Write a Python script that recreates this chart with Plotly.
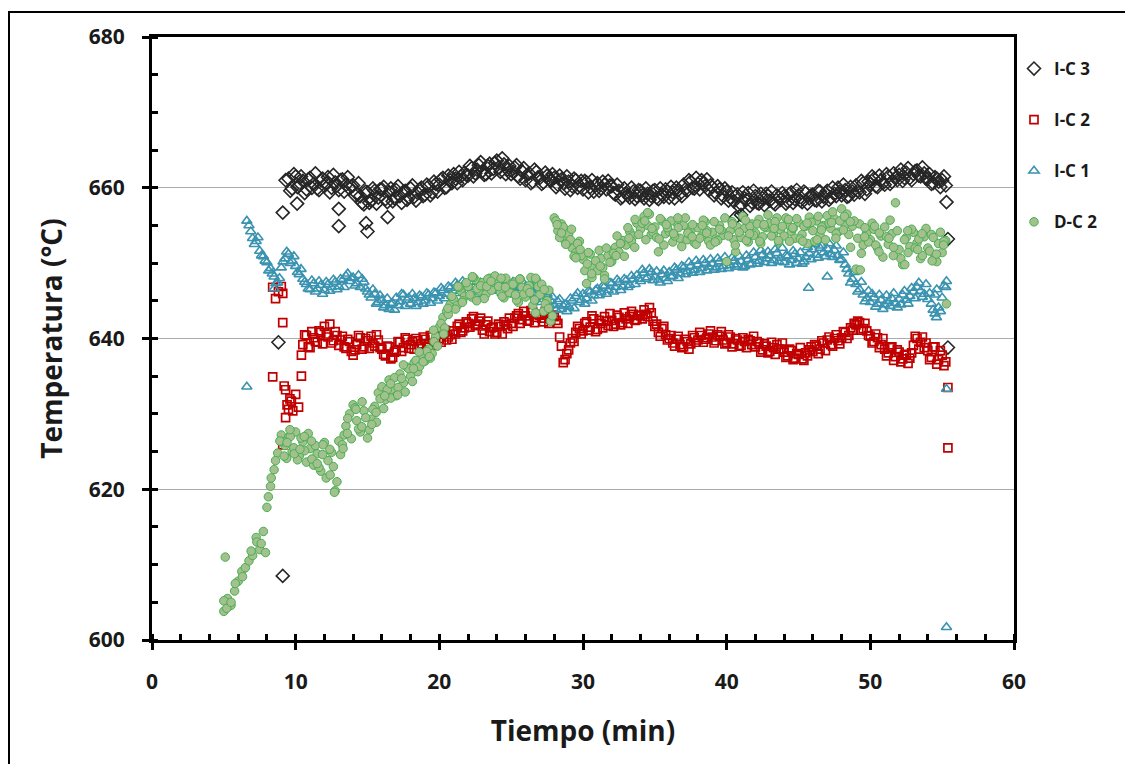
import plotly.graph_objects as go

# ---------------- data ----------------
STEP = 0.25

# I-C 3 (black diamonds): two interleaved sample passes + scattered points
ic3_t0 = 9.5
ic3_v = [661.2, 659.9, 661.5, 660.3, 660.9, 659.8, 661.3, 660.5, 659.9, 661.0, 660.2, 661.4, 660.0, 660.7, 659.7, 661.1, 660.4, 659.9,
         660.3, 659.2, 658.9, 657.8,
         659.4, 658.3, 659.6, 658.7,
         659.8, 658.5, 659.4, 658.2, 659.7, 658.9, 659.5, 658.4, 659.9, 658.8, 659.3, 660.0,
         659.1, 660.2, 659.4, 660.5,
         660.4, 661.3, 660.1, 661.0, 661.8, 660.6, 661.5, 662.0,
         661.6, 662.6, 661.9, 663.0, 662.2, 661.8, 663.2, 662.5, 663.6, 662.1, 663.1, 662.4,
         661.8, 662.7, 661.5, 662.2, 661.0, 661.9, 660.8, 662.1, 661.3, 660.7, 661.6, 660.9,
         661.3, 660.4, 661.1, 659.9, 660.8, 660.2, 661.0, 660.3,
         659.8, 660.7, 660.1, 659.5, 660.6, 659.9, 660.4, 660.9,
         660.2, 659.1, 659.6, 658.8, 659.3, 658.7, 659.5, 658.9,
         659.6, 658.6, 659.2, 658.9, 659.7, 658.5, 659.1, 659.8, 658.7, 659.4, 660.0, 659.2,
         660.4, 659.6, 660.8, 659.9, 660.5, 661.0, 660.2, 659.7,
         660.1, 659.3, 659.8, 658.9, 659.5, 658.7,
         658.2, 659.1, 657.8, 658.6, 659.3, 658.1, 658.9, 657.9, 658.6, 659.2, 658.3, 658.0, 659.0, 658.4,
         658.9, 658.2, 659.4, 658.5, 659.0, 658.1, 659.3, 658.6, 659.1, 658.3, 659.5, 658.8,
         659.6, 658.7, 659.2, 660.0, 659.0, 659.7, 658.9, 659.5,
         660.3, 659.4, 660.6, 659.8,
         660.5, 661.2, 660.1, 661.0, 660.4, 661.5, 660.8, 661.3,
         661.7, 660.9, 662.0, 661.3, 661.8, 662.3, 661.5, 661.9,
         661.2, 660.5, 661.4, 660.8, 661.0, 660.3]
ic3_t0b = 9.625
ic3_vb = [659.6, 661.8, 660.1, 661.5, 659.3, 661.1, 660.0, 661.9, 659.7, 661.2, 660.6, 659.4, 661.7, 660.3, 661.0, 659.5, 661.4, 660.2,
          659.0, 660.6, 658.0, 659.5,
          658.0, 659.9, 657.9, 659.8,
          660.1, 658.1, 659.9, 658.6, 660.2, 658.0, 659.6, 658.7, 660.3, 658.3, 659.8, 658.9,
          660.4, 659.0, 660.8, 659.5,
          661.1, 660.0, 661.6, 660.6, 661.2, 662.1, 661.0, 661.7,
          662.9, 661.5, 662.4, 663.4, 661.7, 662.9, 661.9, 663.3, 662.7, 663.9, 661.8, 662.9,
          662.1, 663.0, 661.2, 662.6, 661.7, 660.6, 662.4, 661.4, 660.5, 662.0, 661.1, 661.8,
          660.1, 661.6, 660.6, 661.5, 659.7, 661.2, 660.0, 660.9,
          660.9, 659.4, 661.0, 660.3, 659.6, 660.8, 659.8, 660.3,
          659.3, 660.4, 658.6, 659.9, 659.0, 660.0, 658.5, 659.7,
          659.0, 659.9, 658.4, 659.6, 658.7, 659.9, 658.8, 659.5, 660.1, 658.6, 659.7, 658.9,
          659.8, 661.0, 660.0, 661.3, 659.8, 660.6, 661.1, 660.3,
          659.0, 660.2, 658.6, 659.9, 658.3, 659.4,
          658.9, 657.5, 659.4, 658.4, 657.6, 659.6, 658.0, 659.2, 657.7, 658.9, 659.5, 657.8, 658.7, 659.3,
          657.9, 659.2, 658.0, 659.7, 658.3, 659.5, 657.9, 659.0, 658.4, 659.6, 658.2, 659.3,
          658.4, 660.0, 658.9, 659.5, 660.4, 658.8, 660.1, 659.1,
          659.6, 660.9, 659.2, 660.8,
          661.5, 660.2, 661.6, 660.6, 661.8, 660.5, 661.9, 661.0,
          662.4, 661.3, 662.6, 661.0, 662.2, 661.6, 662.7, 661.2,
          661.8, 660.6, 661.2, 660.1, 661.5]
ic3_xt = [8.8, 9.1, 9.1, 9.3, 10.1, 13.0, 13.0, 14.9, 15.0, 16.4, 40.6, 41.0, 55.3, 55.4, 55.4]
ic3_xv = [639.5, 608.5, 656.7, 661.0, 657.9, 657.2, 654.9, 655.3, 654.2, 656.1, 656.0, 656.4, 658.1, 653.2, 638.8]

# I-C 2 (red squares)
ic2_t0 = 10.5
ic2_v = [639.2, 640.4, 638.8, 640.1, 639.5, 640.8,
         641.6, 640.2, 639.4, 640.9, 639.1, 640.3, 638.7, 639.6,
         637.8, 639.2, 640.1, 638.9, 639.7, 640.3, 639.0, 639.8,
         638.6, 637.7, 638.9, 637.5,
         638.4, 639.5, 638.8, 639.9, 639.2, 638.6, 639.7, 639.3,
         639.9, 639.3, 640.2, 639.6,
         640.0, 640.7, 639.8, 640.5, 641.0, 641.6, 640.8, 641.4,
         642.0, 642.6, 641.7, 642.3, 641.1, 641.8, 640.9, 641.5,
         640.8, 641.6, 642.2, 641.3, 642.0, 642.7, 643.3, 642.5,
         643.0, 642.4, 643.5, 642.8, 643.1, 642.2, 643.4, 642.6,
         642.9, 642.0,
         639.0, 637.2, 638.5, 640.0, 640.8, 641.3,
         641.0, 642.2, 641.5, 642.6, 641.2, 642.0, 642.9, 641.7,
         642.4, 641.9, 642.8, 642.1, 642.6, 642.9, 643.2, 642.5,
         643.0, 643.8, 642.9, 643.4,
         641.6, 640.8, 641.3, 640.5,
         640.0, 639.4, 639.9, 639.2, 638.9, 639.6, 639.3, 640.1,
         639.8, 640.4, 639.9, 640.6, 640.2, 639.7, 640.3, 639.8,
         639.5, 640.2, 639.3, 639.8, 639.1, 639.6, 639.9, 639.2,
         638.9, 639.4, 638.5, 639.0, 638.3, 638.8, 639.2, 638.6,
         638.2, 637.7, 638.4, 637.4, 637.9, 637.3, 638.1, 638.5,
         638.3, 639.0, 638.6, 639.4, 639.8, 639.2, 640.0, 639.7,
         640.1, 640.8, 640.4, 641.1,
         641.8, 642.1, 641.3, 641.0,
         640.3, 639.6, 640.1, 639.2,
         638.6, 638.1, 638.9, 637.6, 638.2, 637.3, 637.9, 637.4,
         639.1, 640.0, 639.5, 638.8,
         638.4, 637.5, 638.9, 637.2, 637.8, 636.9]
ic2_t0b = 10.625
ic2_vb = [640.5, 638.9, 640.9, 639.6, 641.0, 639.3,
          640.6, 641.9, 639.7, 640.4, 639.8, 638.9, 639.9, 638.3,
          638.5, 640.4, 638.6, 640.0, 638.7, 639.4, 640.5, 638.8,
          637.9, 639.0, 637.3, 638.2,
          639.6, 638.3, 640.1, 638.7, 639.6, 640.0, 638.9, 640.2,
          638.9, 640.4, 639.1, 640.6,
          639.5, 641.1, 640.2, 639.9, 640.6, 641.9, 641.0, 642.2,
          641.5, 642.9, 641.9, 642.7, 640.6, 642.3, 641.4, 640.6,
          641.9, 640.6, 641.8, 642.7, 641.6, 643.0, 642.0, 643.6,
          642.3, 643.7, 642.1, 643.2, 642.7, 643.6, 642.0, 643.1,
          642.4, 640.2,
          636.8, 638.0, 639.4, 639.6, 641.6, 640.6,
          642.0, 641.1, 643.0, 640.9, 642.4, 641.4, 642.3, 643.3,
          641.6, 643.1, 641.8, 643.4, 642.0, 643.6, 642.4, 643.1,
          642.6, 643.2, 644.1, 642.3,
          641.9, 640.3, 641.6, 639.8,
          640.4, 639.0, 640.3, 638.8, 639.9, 638.6, 640.4, 639.5,
          640.8, 639.5, 640.1, 641.0, 639.4, 640.5, 640.9, 639.3,
          640.5, 638.9, 640.0, 639.0, 640.1, 638.8, 639.7, 640.3,
          639.6, 638.2, 639.3, 638.1, 639.5, 637.9, 638.6, 639.4,
          637.5, 638.6, 637.2, 638.0, 638.8, 637.1, 637.7, 638.9,
          639.2, 638.0, 639.7, 638.4, 640.2, 639.0, 640.5, 639.3,
          640.9, 640.0, 641.4, 642.0,
          642.3, 641.1, 642.0, 640.4,
          639.4, 640.6, 638.8, 640.0,
          637.7, 638.8, 637.1, 638.5, 636.9, 637.8, 636.7, 638.1,
          640.3, 638.6, 640.2, 639.4,
          637.2, 638.9, 636.6, 638.4, 636.4]
ic2_xt = [8.4, 8.4, 8.6, 8.8, 9.0, 9.1, 9.1, 9.2, 9.3, 9.4, 9.5, 9.6, 9.7, 9.8, 10.0, 10.2, 9.3, 9.1, 10.4, 10.4, 55.4, 55.4]
ic2_xv = [634.9, 646.8, 645.3, 646.2, 646.9, 646.0, 642.1, 633.7, 633.2, 631.2, 630.6, 632.0, 631.7, 630.4, 632.6, 630.9, 629.5, 625.9, 635.0, 637.8, 633.5, 625.5]

# I-C 1 (blue triangles)
ic1_t0 = 6.75
ic1_v = [655.0, 653.3, 652.9, 651.6, 650.9, 650.1, 649.3, 648.2, 647.4,
         649.4, 650.6, 651.2, 650.3, 649.6, 648.5, 647.9, 647.2,
         646.5, 647.3, 646.6, 647.1, 646.4, 647.2, 646.8, 647.5,
         646.9, 647.7, 648.3, 647.6, 648.1, 647.3, 646.8, 647.5,
         646.2, 645.4, 645.9, 644.8, 645.1, 644.4, 643.9, 644.7,
         645.4, 644.9, 645.8, 645.1, 644.6, 645.3, 644.8, 645.5,
         645.0, 645.8, 645.3, 646.0, 645.6, 646.4, 645.9, 646.7,
         646.3, 647.1, 646.6, 647.3, 646.8, 646.2, 647.0, 646.5,
         647.2, 646.6, 647.4, 646.9, 646.3, 647.1, 646.7, 647.3,
         646.8, 646.2, 647.0, 646.4, 646.9, 646.1, 646.6, 646.0,
         645.7, 645.2, 645.9, 645.0, 644.4, 644.9, 643.9, 644.5,
         644.2, 645.0, 645.6, 644.8, 645.9, 645.3, 646.2, 645.7,
         646.6, 646.1, 646.9, 646.4, 647.3, 646.8, 647.5, 646.9,
         647.7, 647.1, 647.9, 648.4, 647.6, 648.7, 648.1, 648.8,
         648.2, 647.8, 648.5, 648.0, 648.8, 648.3, 649.1, 648.6,
         649.4, 648.9, 649.6, 649.1, 649.8, 649.3, 650.0, 649.5,
         649.9, 649.4, 650.2, 649.6, 650.1, 649.7, 650.3, 649.8,
         650.2, 649.6, 650.5, 649.9, 650.8, 650.3, 651.1, 650.6,
         651.0, 650.4, 651.3, 650.7, 650.1, 650.9, 650.4, 651.2,
         650.6, 649.9, 650.8, 651.3, 651.8, 651.1, 652.0, 651.4,
         651.9, 651.2, 651.7, 651.0, 650.5, 649.8,
         648.6, 647.9, 647.2, 646.5, 645.8, 645.3,
         644.8, 645.4, 644.6, 645.1, 644.5, 644.9, 645.3, 644.7,
         645.2, 645.8, 645.1, 645.6, 646.2, 646.8, 646.3, 645.9,
         645.2, 644.6, 645.8, 644.1, 645.4, 646.8]
ic1_t0b = 6.875
ic1_vb = [654.2, 652.5, 653.4, 651.0, 650.3, 649.0, 648.6, 647.3, 648.0,
          650.2, 651.5, 650.0, 650.9, 648.8, 649.2, 647.5, 646.6,
          647.7, 646.2, 647.6, 645.9, 647.5, 646.3, 647.8, 646.5,
          647.9, 646.8, 648.6, 648.0, 647.0, 648.4, 647.9, 646.6,
          645.8, 646.5, 644.6, 645.7, 644.1, 645.3, 644.6, 643.8,
          644.4, 645.9, 644.3, 645.4, 645.9, 644.3, 645.7, 644.6,
          646.0, 644.7, 646.1, 645.0, 646.7, 645.3, 646.9, 645.6,
          647.4, 646.0, 647.6, 646.1, 647.5, 646.8, 645.9, 647.4,
          646.2, 647.7, 646.4, 647.6, 647.0, 646.0, 647.6, 646.4,
          647.5, 645.9, 646.8, 647.3, 645.8, 647.1, 645.7, 646.8,
          644.8, 646.1, 644.5, 645.5, 643.8, 645.2, 644.3, 643.6,
          645.3, 644.0, 646.0, 645.1, 644.6, 646.3, 645.0, 646.4,
          645.7, 647.0, 645.9, 647.4, 646.2, 647.8, 646.4, 647.9,
          646.8, 648.3, 647.2, 647.9, 649.1, 647.9, 649.2, 647.7,
          648.9, 647.4, 649.0, 647.6, 648.2, 649.4, 648.0, 649.6,
          648.5, 650.1, 648.7, 650.3, 648.8, 650.4, 649.0, 650.5,
          649.1, 650.6, 649.2, 650.8, 649.3, 650.7, 649.5, 650.9,
          649.4, 651.0, 649.8, 651.4, 649.9, 651.7, 650.1, 651.5,
          650.0, 651.8, 650.2, 652.0, 651.0, 649.8, 651.6, 650.0,
          651.4, 650.2, 652.1, 650.5, 652.5, 650.7, 652.3, 650.9,
          652.6, 650.8, 652.3, 650.4, 651.4, 649.2,
          647.4, 648.8, 646.2, 647.5, 644.9, 646.3,
          645.9, 644.2, 645.8, 643.9, 645.7, 644.3, 646.0, 644.1,
          644.5, 646.3, 644.6, 646.7, 645.3, 647.4, 645.5, 647.2,
          646.0, 643.8, 646.5, 643.6, 647.0]
ic1_xt = [6.6, 6.6, 8.5, 45.7, 47.0, 54.5, 54.6, 55.3, 55.3, 55.3]
ic1_xv = [633.6, 655.6, 646.6, 646.7, 648.2, 643.3, 642.8, 601.7, 633.3, 647.6]

# D-C 2 (green circles)
dc2_t0 = 5.0
dc2_v = [603.8, 605.5, 604.6, 606.5, 607.8, 609.1, 609.6, 610.5, 611.2, 613.6, 612.0, 614.4,
         617.6, 620.4, 622.6, 624.8, 627.2, 625.8, 626.9, 625.0, 627.6, 624.4, 626.3, 623.6,
         625.4, 623.2, 624.7, 622.4, 626.2, 623.8, 624.9, 619.8, 626.4, 625.9, 628.4, 630.0,
         631.2, 629.1, 627.6, 630.4, 626.8, 629.3, 631.0, 632.8, 633.6, 631.9, 634.5, 633.0,
         632.4, 635.3, 634.1, 636.2, 635.0, 636.8, 635.6, 637.5, 637.0, 638.6, 638.0, 640.3,
         641.5, 642.8, 643.6, 644.5, 645.2, 644.4, 646.3, 645.6, 646.9, 645.5, 647.8, 646.3,
         647.4, 645.9, 648.0, 646.6, 647.7, 646.2, 645.4, 647.3, 646.0, 647.5, 644.8, 646.8,
         645.5, 647.0, 644.4, 647.8, 645.8, 643.6, 645.0, 642.3, 656.0, 654.3, 655.2, 653.0,
         653.8, 652.0, 651.4, 652.9, 650.5, 647.3, 651.2, 649.5, 649.0, 650.6, 648.4, 651.0,
         650.2, 652.1, 651.5, 653.0, 652.4, 654.2, 653.6, 655.3, 654.5, 656.2, 655.0, 653.8,
         654.8, 651.5, 655.6, 653.9, 654.2, 652.8, 655.4, 653.3, 655.0, 653.1, 654.3, 652.7,
         654.7, 653.6, 655.5, 652.9, 654.1, 653.2, 655.0, 653.7, 650.2, 654.3, 653.1, 654.8,
         653.4, 654.6, 652.8, 655.2, 654.0, 655.8, 653.5, 654.7, 655.3, 653.9, 656.0, 654.4,
         653.6, 655.1, 654.2, 653.3, 655.4, 653.8, 654.9, 656.1, 654.3, 655.6, 653.7, 655.0,
         656.3, 654.6, 655.9, 654.1, 657.2, 655.0, 653.8, 654.9, 649.2, 655.2, 652.4, 654.0,
         653.1, 654.5, 652.0, 653.6, 654.8, 652.5, 653.9, 658.0, 651.8, 649.8, 653.4, 652.2,
         654.1, 652.7, 650.6, 653.5, 652.0, 653.8, 650.9, 652.6, 651.4, 653.0]
dc2_t0b = 9.125
dc2_vb = [626.3, 624.1, 627.0, 625.5, 623.9, 626.8, 625.1, 627.4,
          624.0, 625.8, 622.9, 624.6, 621.5, 625.3, 623.0, 621.0,
          624.6, 627.2, 629.4, 626.7, 630.8, 628.0, 631.6, 629.5,
          627.9, 630.6, 628.9, 632.0, 630.7, 633.2, 632.1, 634.8,
          633.5, 634.7, 632.9, 636.0, 634.3, 637.1, 636.3, 636.9,
          638.3, 637.4, 639.6, 639.0, 642.0, 641.4, 643.2, 645.6,
          643.9, 646.8, 645.0, 647.4, 645.8, 648.1, 646.6, 647.0,
          645.3, 647.9, 646.4, 648.3, 646.9, 645.6, 648.0, 646.1,
          647.2, 645.1, 647.9, 645.9, 646.6, 648.1, 645.1, 646.9,
          647.2, 644.6, 646.4, 643.0,
          655.6, 653.4, 654.8, 652.6, 653.1, 650.9, 652.6, 651.0,
          649.0, 651.4, 648.1, 650.3, 651.7, 649.4, 652.0, 650.1,
          651.3, 653.6, 652.6, 650.9, 654.7, 652.9, 655.8, 653.8,
          655.3, 653.1, 656.5, 654.1, 653.4, 655.9, 652.4, 654.7,
          655.6, 653.6, 654.7, 652.2, 656.0, 653.9, 655.1, 652.5,
          653.3, 655.7, 654.3, 652.4, 655.5, 653.0, 654.4, 656.0,
          653.6, 655.5, 651.5, 654.1, 656.2, 653.0, 654.9, 653.7,
          655.2, 652.6, 654.8, 656.4, 653.6, 655.5, 652.8, 654.9,
          656.0, 652.9, 654.6, 655.9, 653.2, 654.9, 652.6, 655.4,
          652.9, 656.2, 654.8, 653.1, 655.3, 656.8, 653.9, 655.6,
          654.4, 656.5, 652.1, 655.6, 653.3, 651.3, 654.7, 652.8,
          655.3, 652.4, 654.0, 650.8, 653.5, 655.7, 652.1, 654.3,
          650.6, 653.1, 651.4, 654.5, 652.0, 653.2, 651.0, 654.6,
          651.6, 653.4, 650.2, 654.1, 652.9]
dc2_xt = [5.1, 5.0, 5.2, 5.5, 5.8, 6.3, 6.9, 7.3, 7.6, 7.9, 8.1, 8.3, 8.6, 8.9, 9.2, 9.4, 9.6, 9.9,
          10.3, 10.6, 11.1, 11.5, 11.9, 12.4, 12.7, 13.3, 13.6, 14.2, 14.6, 15.3, 15.6, 16.2, 16.6,
          17.1, 17.5, 18.2, 18.6, 19.3, 19.6, 20.3, 20.6, 21.3, 21.6, 22.3, 22.6, 23.3, 23.6, 24.3,
          24.6, 25.3, 25.6, 26.3, 26.7, 26.7, 27.3, 27.6, 28.2, 28.5, 28.8, 29.2, 29.5, 29.8, 30.3,
          30.6, 31.2, 31.5, 32.3, 32.6, 33.2, 33.6, 34.3, 34.5, 34.8, 35.3, 35.8, 36.3, 36.6, 37.3,
          37.6, 38.3, 38.6, 39.2, 39.5, 40.4, 40.6, 41.3, 41.6, 42.3, 42.6, 43.3, 43.6, 44.3, 44.6,
          45.3, 45.6, 46.3, 46.6, 47.3, 47.6, 48.2, 48.6, 49.3, 49.6, 50.3, 50.6, 51.3, 51.6, 52.4,
          52.6, 53.3, 53.6, 54.3, 54.6, 55.3, 55.1]
dc2_xv = [611.0, 605.2, 604.2, 605.0, 607.5, 608.4, 611.8, 613.0, 612.8, 611.6, 619.0, 621.5, 623.8,
          626.4, 624.4, 626.2, 627.9, 624.7, 625.3, 627.0, 626.4, 623.4, 625.9, 621.9, 619.6, 625.4,
          627.4, 630.6, 628.3, 628.6, 630.2, 632.4, 634.0, 632.5, 636.5, 636.0, 638.2, 637.6, 641.1,
          640.6, 644.0, 646.9, 644.8, 648.2, 645.0, 646.9, 647.6, 648.0, 646.8, 645.8, 647.9, 646.1,
          648.0, 643.4, 646.5, 644.0, 655.1, 654.0, 652.5, 654.5, 650.7, 651.8, 649.9, 648.6, 649.6,
          647.9, 651.0, 652.6, 653.3, 652.1, 655.6, 656.7, 654.6, 653.2, 655.1, 653.9, 656.0, 654.0,
          653.5, 655.0, 654.0, 652.8, 654.5, 655.2, 652.4, 655.7, 653.9, 652.9, 655.1, 654.6, 653.0,
          655.8, 654.7, 652.9, 655.3, 653.1, 654.4, 655.4, 653.3, 656.2, 655.5, 649.1, 653.5, 654.9,
          651.5, 653.3, 651.0, 649.8, 654.3, 651.8, 653.9, 650.3, 651.2, 644.6, 652.4]

x_ticks = [0, 10, 20, 30, 40, 50, 60]
y_ticks = [600, 620, 640, 660, 680]


def times(t0, vals):
    return [round(t0 + i * STEP, 3) for i in range(len(vals))]


def series(t0, vals, t0b, valsb, xt, xv):
    return times(t0, vals) + times(t0b, valsb) + xt, vals + valsb + xv


fig = go.Figure()

FONT = "Open Sans"
TXT = "#1a1a1a"

specs = [
    ("I-C 3", (ic3_t0, ic3_v, ic3_t0b, ic3_vb, ic3_xt, ic3_xv),
     dict(symbol="diamond-open", size=10, color="#262626", line=dict(width=1.6, color="#262626"))),
    ("I-C 2", (ic2_t0, ic2_v, ic2_t0b, ic2_vb, ic2_xt, ic2_xv),
     dict(symbol="square-open", size=8, color="#C00000", line=dict(width=1.7, color="#C00000"))),
    ("I-C 1", (ic1_t0, ic1_v, ic1_t0b, ic1_vb, ic1_xt, ic1_xv),
     dict(symbol="triangle-up-open", size=9, color="#3A93B0", line=dict(width=1.6, color="#3A93B0"))),
    ("D-C 2", (dc2_t0, dc2_v, dc2_t0b, dc2_vb, dc2_xt, dc2_xv),
     dict(symbol="circle", size=8.5, color="#A4C08E", line=dict(width=1, color="#46B050"))),
]

for name, args, mk in specs:
    x, y = series(*args)
    fig.add_trace(go.Scatter(x=x, y=y, mode="markers", name=name, marker=mk,
                             legendgroup=name, cliponaxis=False))

axis_common = dict(
    showline=True, linecolor="black", linewidth=3, mirror=True,
    ticks="outside", ticklen=7, tickwidth=3, tickcolor="black",
    tickfont=dict(family=FONT, size=21, color=TXT, weight="bold"),
    zeroline=False,
)

fig.update_xaxes(
    range=[0, 60], tickvals=x_ticks, showgrid=False,
    minor=dict(ticks="inside", dtick=2, ticklen=6, tickwidth=3, tickcolor="black", showgrid=False),
    ticklabelstandoff=14,
    title=dict(text="Tiempo (min)", font=dict(family=FONT, size=28, color=TXT, weight="bold"), standoff=28),
    **axis_common,
)
fig.update_yaxes(
    range=[600, 680], tickvals=y_ticks, showgrid=True, gridcolor="#ABABAB", gridwidth=1.2,
    minor=dict(ticks="inside", dtick=5, ticklen=6, tickwidth=3, tickcolor="black", showgrid=False),
    ticklabelstandoff=13,
    title=dict(text="Temperatura (°C)", font=dict(family=FONT, size=28, color=TXT, weight="bold"), standoff=18),
    **axis_common,
)

# overlay axes that carry only the inward half of the major ticks
fig.update_layout(
    xaxis2=dict(overlaying="x", anchor="y", side="bottom", range=[0, 60], tickvals=x_ticks,
                ticks="inside", ticklen=7, tickwidth=3, tickcolor="black",
                showticklabels=False, showgrid=False, showline=False, zeroline=False),
    yaxis2=dict(overlaying="y", anchor="x", side="left", range=[600, 680], tickvals=y_ticks,
                ticks="inside", ticklen=7, tickwidth=3, tickcolor="black",
                showticklabels=False, showgrid=False, showline=False, zeroline=False),
)

# reference-pixel -> paper coordinates (page body adds an 8px offset)
L, R, T, B = 152, 1014, 37, 640
W, H = R - L, B - T
def px(xp):
    return (xp - L) / W
def py(yp):
    return (B - yp) / H

fig.add_shape(type="line", xref="paper", yref="paper", x0=px(9), x1=px(9), y0=py(12), y1=py(790),
              line=dict(color="black", width=2))
fig.add_shape(type="line", xref="paper", yref="paper", x0=px(8), x1=px(1160), y0=py(12), y1=py(12),
              line=dict(color="black", width=2))

FW, FH = 1125, 756
fig.update_layout(
    width=FW, height=FH,
    margin=dict(l=L - 8, r=FW - (R - 8), t=T - 8, b=FH - (B - 8), autoexpand=False),
    paper_bgcolor="white", plot_bgcolor="white",
    showlegend=True,
    legend=dict(x=px(1014), y=py(51), xanchor="left", yanchor="top",
                font=dict(family=FONT, size=17, color=TXT, weight="bold"),
                tracegroupgap=26, bgcolor="rgba(0,0,0,0)", itemwidth=30),
)

fig.write_html("out.html")
